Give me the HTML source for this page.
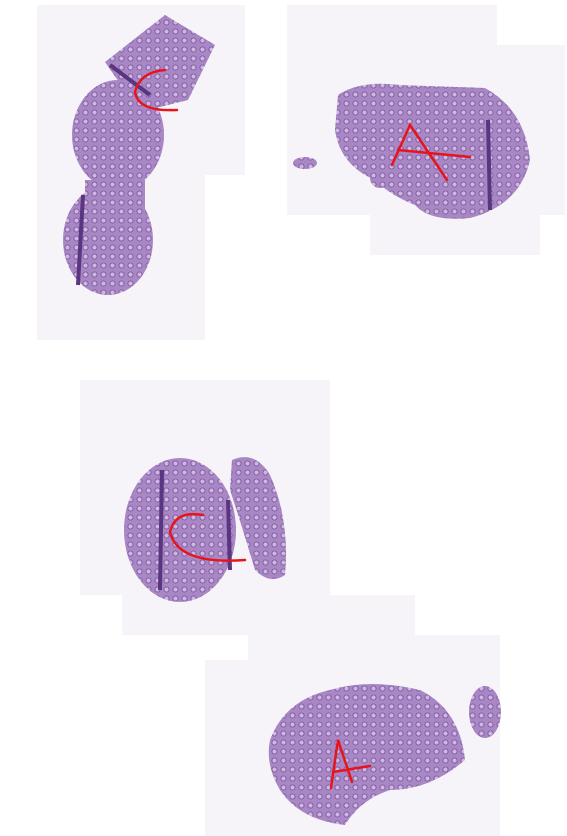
<!DOCTYPE html>
<html><head><meta charset="utf-8"><style>
html,body{margin:0;padding:0;background:#fff;width:567px;height:836px;overflow:hidden}
svg{display:block}
</style></head><body>
<svg width="567" height="836" viewBox="0 0 567 836">
<defs>
<pattern id="gl" width="9" height="9" patternUnits="userSpaceOnUse">
<rect width="9" height="9" fill="#a887c4"/>
<circle cx="4.5" cy="4.5" r="2.6" fill="#cdb7dc"/>
<circle cx="4.5" cy="4.5" r="2.6" fill="none" stroke="#7b56a3" stroke-width="0.9"/>
</pattern>
</defs>
<g fill="#f6f4f8">
<rect x="37" y="5" width="208" height="170"/>
<rect x="37" y="175" width="168" height="165"/>
<rect x="287" y="5" width="210" height="40"/>
<rect x="287" y="45" width="278" height="170"/>
<rect x="330" y="150" width="40" height="65"/>
<rect x="370" y="215" width="170" height="40"/>
<rect x="80" y="380" width="250" height="215"/>
<rect x="122" y="595" width="293" height="40"/>
<rect x="248" y="635" width="252" height="30"/>
<rect x="205" y="660" width="295" height="176"/>
</g>
<g fill="url(#gl)">
<polygon points="105,62 165,15 215,45 188,100 140,112"/>
<ellipse cx="118" cy="135" rx="46" ry="55"/>
<ellipse cx="108" cy="240" rx="45" ry="55"/>
<rect x="85" y="180" width="60" height="60"/>
<path d="M83 195 L78 285" stroke="#5a3580" stroke-width="4"/>
<path d="M110 65 L150 95" stroke="#5a3580" stroke-width="4"/>
</g>
<g fill="url(#gl)">
<path d="M338 95 Q360 80 400 85 L485 88 Q525 110 530 160 Q520 205 470 218 Q430 222 415 205 Q390 195 375 180 Q340 165 335 130 Z"/>
<ellipse cx="305" cy="163" rx="12" ry="6"/>
<ellipse cx="380" cy="178" rx="10" ry="10"/>
<path d="M488 120 L490 210" stroke="#5a3580" stroke-width="4"/>
</g>
<g fill="url(#gl)">
<ellipse cx="180" cy="530" rx="56" ry="72"/>
<path d="M232 460 Q255 450 270 475 Q290 520 285 575 Q270 585 255 570 Q240 520 230 490 Z"/>
<path d="M162 470 L160 590 M228 500 L230 570" stroke="#5a3580" stroke-width="4"/>
</g>
<g fill="url(#gl)">
<path d="M270 740 Q285 700 330 690 Q370 678 420 690 Q460 710 465 760 Q430 790 390 790 Q360 800 345 825 Q300 820 280 790 Q265 765 270 740 Z"/>
<ellipse cx="485" cy="712" rx="16" ry="26"/>
</g>
<g fill="none" stroke="#e8141c" stroke-width="2.5" stroke-linecap="round">
<path d="M165 70 Q140 72 135 92 Q138 112 177 110"/>
<path d="M392 165 L410 125 L447 180 M398 150 L470 157"/>
<path d="M203 515 Q175 510 170 532 Q178 565 245 560"/>
<path d="M331 788 L338 740 L352 782 M333 772 L370 766"/>
</g>
</svg>
</body></html>
